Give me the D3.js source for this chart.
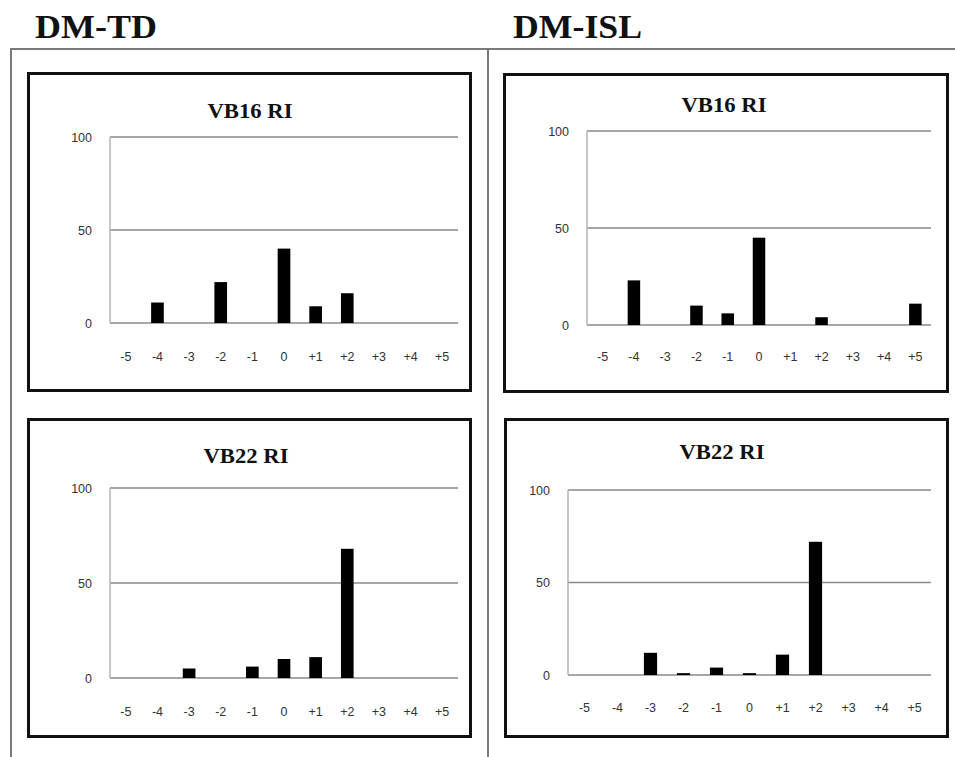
<!DOCTYPE html>
<html>
<head>
<meta charset="utf-8">
<script src="https://cdn.jsdelivr.net/npm/d3@7"></script>
<style>
  html, body { margin: 0; padding: 0; background: #fff; }
  svg { display: block; }
</style>
</head>
<body>
<svg id="chart" width="955" height="757"></svg>
<script>
// ---- data ----
const categories = ["-5", "-4", "-3", "-2", "-1", "0", "+1", "+2", "+3", "+4", "+5"];
const yTicks = [0, 50, 100];
const groupTitles = ["DM-TD", "DM-ISL"];
const panelTitles = ["VB16 RI", "VB22 RI"];
const tdVB16 = [0, 11, 0, 22, 0, 40, 9, 16, 0, 0, 0];
const islVB16 = [0, 23, 0, 10, 6, 45, 0, 4, 0, 0, 11];
const tdVB22 = [0, 0, 5, 0, 6, 10, 11, 68, 0, 0, 0];
const islVB22 = [0, 0, 12, 1, 4, 1, 11, 72, 0, 0, 0];

// ---- layout ----
const svg = d3.select("#chart");
svg.append("rect").attr("width", 955).attr("height", 757).attr("fill", "#fff");

// group headers
const headerFont = "'Liberation Serif', 'DejaVu Serif', serif";
svg.append("text").attr("x", 35).attr("y", 38).text(groupTitles[0])
  .attr("font-family", headerFont).attr("font-weight", "bold").attr("font-size", 34)
  .attr("fill", "#111").attr("textLength", 122).attr("lengthAdjust", "spacingAndGlyphs");
svg.append("text").attr("x", 513).attr("y", 38).text(groupTitles[1])
  .attr("font-family", headerFont).attr("font-weight", "bold").attr("font-size", 34)
  .attr("fill", "#111").attr("textLength", 129).attr("lengthAdjust", "spacingAndGlyphs");

// outer frame lines
const frameColor = "#7a7a7a";
svg.append("line").attr("x1", 10).attr("x2", 955).attr("y1", 49).attr("y2", 49)
  .attr("stroke", frameColor).attr("stroke-width", 2);
svg.append("line").attr("x1", 11).attr("x2", 11).attr("y1", 49).attr("y2", 757)
  .attr("stroke", frameColor).attr("stroke-width", 2);
svg.append("line").attr("x1", 488).attr("x2", 488).attr("y1", 49).attr("y2", 757)
  .attr("stroke", frameColor).attr("stroke-width", 2);

const panels = [
  { values: tdVB16, title: panelTitles[0], box: [27, 72, 472, 392], px: [110, 458], py: [323, 137], titleY: 118, titleX: 250, labelY: 361, yLabelX: 92 },
  { values: islVB16, title: panelTitles[0], box: [503, 73, 949, 393], px: [587, 931], py: [325, 131], titleY: 112, titleX: 724, labelY: 361, yLabelX: 569 },
  { values: tdVB22, title: panelTitles[1], box: [27, 418, 472, 738], px: [110, 458], py: [678, 488], titleY: 463, titleX: 246, labelY: 716, yLabelX: 92 },
  { values: islVB22, title: panelTitles[1], box: [504, 418, 949, 738], px: [568, 931], py: [675, 490], titleY: 459, titleX: 722, labelY: 712, yLabelX: 550 }
];

const tickFont = "'Liberation Sans', 'DejaVu Sans', sans-serif";

panels.forEach(p => {
  const g = svg.append("g");
  const [bx0, by0, bx1, by1] = p.box;
  g.append("rect").attr("x", bx0 + 1.5).attr("y", by0 + 1.5)
    .attr("width", bx1 - bx0 - 3).attr("height", by1 - by0 - 3)
    .attr("fill", "#fff").attr("stroke", "#111").attr("stroke-width", 3);

  g.append("text").attr("x", p.titleX).attr("y", p.titleY).attr("text-anchor", "middle")
    .attr("font-family", headerFont).attr("font-weight", "bold").attr("font-size", 21)
    .attr("fill", "#111").attr("textLength", 85).attr("lengthAdjust", "spacingAndGlyphs")
    .text(p.title);

  const x = d3.scaleBand().domain(categories).range(p.px).paddingInner(0.6).paddingOuter(0.3);
  const y = d3.scaleLinear().domain([0, 100]).range(p.py);

  // gridlines
  g.append("g").selectAll("line").data(yTicks).join("line")
    .attr("x1", p.px[0]).attr("x2", p.px[1])
    .attr("y1", d => y(d)).attr("y2", d => y(d))
    .attr("stroke", "#8a8a8a").attr("stroke-width", 1.5);
  // y axis line
  g.append("line").attr("x1", p.px[0]).attr("x2", p.px[0])
    .attr("y1", y(100)).attr("y2", y(0)).attr("stroke", "#b5b5b5").attr("stroke-width", 1.5);

  // y tick labels
  const yAxis = g.append("g").attr("transform", `translate(${p.yLabelX},0)`)
    .call(d3.axisLeft(y).tickValues(yTicks).tickSize(0).tickPadding(0));
  yAxis.select(".domain").remove();
  yAxis.selectAll("text").attr("font-family", tickFont).attr("font-size", 12.5).attr("fill", "#333");

  // x tick labels
  const xAxis = g.append("g").attr("transform", `translate(0,${p.labelY - 9})`)
    .call(d3.axisBottom(x).tickSize(0).tickPadding(0));
  xAxis.select(".domain").remove();
  xAxis.selectAll("text").attr("font-family", tickFont).attr("font-size", 12.5).attr("fill", "#333");

  // bars
  g.append("g").selectAll("rect").data(p.values.map((v, i) => ({ c: categories[i], v })).filter(d => d.v > 0))
    .join("rect")
    .attr("x", d => x(d.c)).attr("width", x.bandwidth())
    .attr("y", d => y(d.v)).attr("height", d => y(0) - y(d.v))
    .attr("fill", "#000");
});
</script>
</body>
</html>
